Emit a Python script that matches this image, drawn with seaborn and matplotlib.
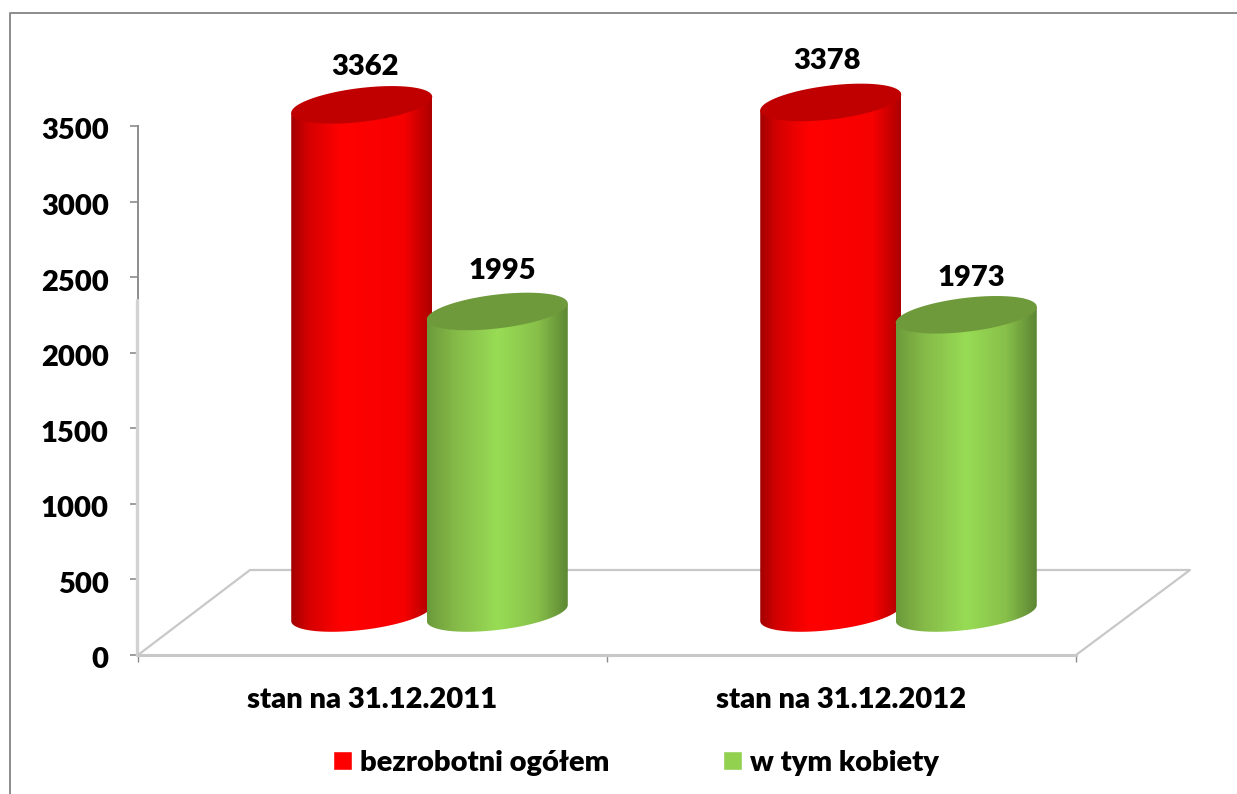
import numpy as np
import pandas as pd
import matplotlib
matplotlib.use('Agg')
import matplotlib.pyplot as plt
import seaborn as sns
from matplotlib.colors import LinearSegmentedColormap
from matplotlib.patches import Patch, Polygon
from matplotlib.ticker import FixedFormatter, FixedLocator
from matplotlib.transforms import ScaledTranslation

okresy = ['stan na 31.12.2011', 'stan na 31.12.2012']
serie = ['bezrobotni ogółem', 'w tym kobiety']
bezrobotni = [3362, 3378]
kobiety = [1995, 1973]
y_ticks = [0, 500, 1000, 1500, 2000, 2500, 3000, 3500]

W, H = 1237, 794
DEPTH_X, DEPTH_Y = 57, 42   # perspective shift of the bars, px
BAR_PX = 141
TILT = 8
CAP_B = 17
GREY = '#8c8c8c'
LIGHT = '#c8c8c8'
FS = 21

sns.set_style('white')
plt.rcParams['font.family'] = ['Lato', 'DejaVu Sans']
plt.rcParams['font.weight'] = 'heavy'
plt.rcParams['font.size'] = FS
plt.rcParams['text.color'] = 'black'
plt.rcParams['xtick.color'] = 'black'
plt.rcParams['ytick.color'] = 'black'

df = pd.DataFrame({
    'okres': okresy * 2,
    'liczba': bezrobotni + kobiety,
    'seria': [serie[0]] * 2 + [serie[1]] * 2,
})

fig = plt.figure(figsize=(W / 100, H / 100), dpi=100)
ax = fig.add_axes([138 / W, 1 - 655 / H, (1076 - 138) / W, (655 - 126) / H])
ax.patch.set_alpha(0)

sns.barplot(data=df, x='okres', y='liczba', hue='seria', width=0.578, gap=0,
            palette=['#ff0000', '#92d050'], legend=False, ax=ax)
ax.set(xlabel=None, ylabel=None)
ax.set_xlim(-0.5, 1.5)
ax.set_ylim(0, 3500)
ax.set_yticks(y_ticks)

# ticks sit between the categories, labels in the middle
ax.xaxis.set_major_locator(FixedLocator([-0.5, 0.5, 1.5]))
ax.xaxis.set_major_formatter(FixedFormatter(['', '', '']))
ax.xaxis.set_minor_locator(FixedLocator([0, 1]))
ax.xaxis.set_minor_formatter(FixedFormatter(okresy))
ax.tick_params(axis='x', which='minor', length=0, pad=23, labelsize=FS)
ax.tick_params(axis='x', which='major', length=5, width=1, color=GREY, direction='out', bottom=True)
ax.tick_params(axis='y', length=6, width=1.2, color=GREY, pad=15, labelsize=FS, left=True)

# y labels hang a little below their ticks
for lab in ax.get_yticklabels():
    lab.set_transform(lab.get_transform() + ScaledTranslation(0, -3 / 100, fig.dpi_scale_trans))

sns.despine(ax=ax, top=True, right=True)
ax.spines['left'].set_color(GREY)
ax.spines['left'].set_linewidth(1.4)
ax.spines['bottom'].set_color(LIGHT)
ax.spines['bottom'].set_linewidth(2.2)

# overlay in pixel coordinates for the frame, the floor and the cylinders
px = fig.add_axes([0, 0, 1, 1], zorder=3)
px.patch.set_alpha(0)
px.set_axis_off()

px.plot([10, 10, W], [H, 13, 13], color=GREY, lw=1.4)
px.plot([137, 137], [300, 655], color='#d2d2d2', lw=2.4)
px.plot([138, 250, 1190, 1076], [655, 570, 570, 655], color=LIGHT, lw=1.6)


def to_px(x, y):
    p = ax.transData.transform((x, y))
    return p[0], H - p[1]


red_map = LinearSegmentedColormap.from_list('r', [(0, '#a30000'), (0.12, '#d40000'), (0.35, '#ff0000'),
                                                  (0.8, '#f70000'), (1, '#ad0000')])
green_map = LinearSegmentedColormap.from_list('g', [(0, '#6c9a3b'), (0.2, '#85ba48'), (0.5, '#98dc55'),
                                                    (0.78, '#88c04a'), (1, '#5c8533')])
maps = [red_map, green_map]
caps = ['#c00000', '#6f9a3c']
label_shift = [[(3, -38), (-4, -41)], [(5, -40), (5, -37)]]

t = np.linspace(0, np.pi, 60)
grad = np.linspace(0, 1, 256).reshape(1, -1)

for s, container in enumerate(ax.containers):
    for b, bar in enumerate(container):
        xc = bar.get_x() + bar.get_width() / 2
        x_mid, y_top = to_px(xc, bar.get_height())
        _, y_base = to_px(xc, 0)
        x_mid += DEPTH_X
        y_top -= DEPTH_Y
        y_base -= DEPTH_Y
        a = BAR_PX / 2
        bar.set_facecolor('none')
        bar.set_edgecolor('none')

        # body = side walls plus the lower half of the base ellipse
        arc_x = x_mid + a * np.cos(t)
        arc_skew = -TILT * np.cos(t)
        low = np.column_stack([arc_x[::-1], y_base + (CAP_B * np.sin(t) + arc_skew)[::-1]])
        body = np.vstack([[[x_mid - a, y_top + TILT]], low, [[x_mid + a, y_top - TILT]]])
        clip = Polygon(body, closed=True, transform=px.transData, facecolor='none', edgecolor='none')
        px.add_patch(clip)
        img = px.imshow(grad, cmap=maps[s], aspect='auto', vmin=0, vmax=1,
                        extent=(x_mid - a, x_mid + a, y_base + CAP_B + TILT, y_top - TILT),
                        zorder=4 + s, interpolation='bilinear')
        img.set_clip_path(clip)

        # top cap
        full = np.linspace(0, 2 * np.pi, 120)
        cap = np.column_stack([x_mid + a * np.cos(full),
                               y_top + CAP_B * np.sin(full) - TILT * np.cos(full)])
        px.add_patch(Polygon(cap, closed=True, facecolor=caps[s], edgecolor='none', zorder=4 + s))

        dx, dy = label_shift[s][b]
        px.text(x_mid + dx, y_top + dy, str(int(bar.get_height())), ha='center', va='center',
                fontsize=FS, zorder=8)

px.set_xlim(0, W)
px.set_ylim(H, 0)

handles = [Patch(facecolor='#ff0000', label=serie[0]), Patch(facecolor='#92d050', label=serie[1])]
fig.legend(handles=handles, ncol=2, frameon=False, loc='center', bbox_to_anchor=(636 / W, 1 - 763 / H),
           fontsize=FS, handlelength=0.65, handleheight=0.65, handletextpad=0.27, columnspacing=3.9)

fig.savefig('out.png', dpi=100)
plt.close(fig)
